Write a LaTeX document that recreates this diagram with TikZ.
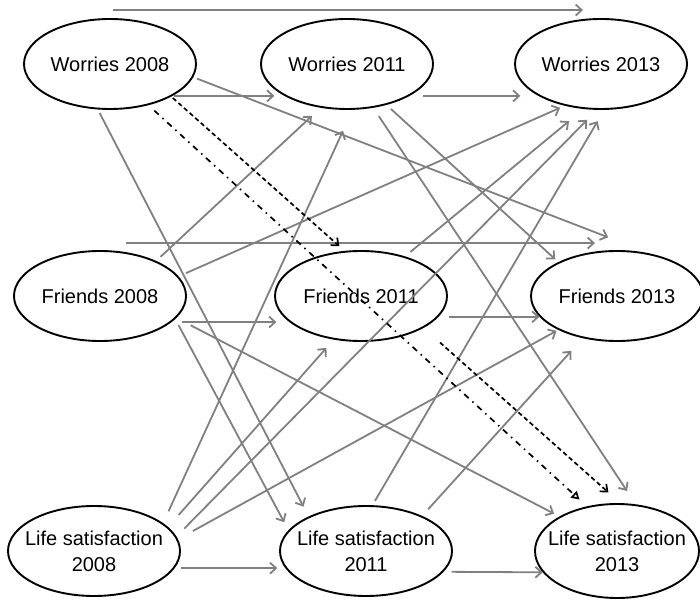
\documentclass[tikz,border=0pt]{standalone}
\usepackage{fontspec}
\setmainfont{Liberation Sans}
\usetikzlibrary{arrows.meta,shapes.geometric}
\definecolor{linkgray}{RGB}{128,128,128}

\begin{document}
\begin{tikzpicture}[
    x=1pt, y=1pt,
    construct/.style={
        draw,
        ellipse,
        line width=1.9pt,
        align=center,
        minimum width=172pt,
        minimum height=90pt,
        inner xsep=-14pt,
        inner ysep=0pt,
        font=\fontsize{20}{26}\selectfont
    },
    effect/.style={draw=linkgray,line width=1.8pt,-{Straight Barb[length=6pt,width=11pt]}},
    lagged/.style={draw=black,line width=1.7pt,dash pattern=on 4.5pt off 3pt,-{Straight Barb[length=6pt,width=10pt]}},
    direct/.style={draw=black,line width=1.7pt,dash pattern=on 6pt off 5pt on 1.5pt off 5pt,-{Triangle[open,length=8pt,width=9pt]}}
]
\useasboundingbox (0,0) rectangle (700,600);

\node[construct] (w08) at (110,536) {Worries 2008};
\node[construct] (w11) at (347,536) {Worries 2011};
\node[construct] (w13) at (601,536) {Worries 2013};

\node[construct] (f08) at (100,304) {Friends 2008};
\node[construct] (f11) at (361,304) {Friends 2011};
\node[construct] (f13) at (617,304) {Friends 2013};

\node[construct] (l08) at (94,49) {Life satisfaction\\2008};
\node[construct] (l11) at (366,49) {Life satisfaction\\2011};
\node[construct,minimum width=164pt,minimum height=94pt] (l13) at (617,49) {Life satisfaction\\2013};

% stability paths
\draw[effect] ([shift={(3,8)}]w08.north) -- ([shift={(-18,8)}]w13.north);
\draw[effect,shorten <=1pt,shorten >=10pt] (w08.-27) -- (w11.207);
\draw[effect,shorten <=13pt,shorten >=18pt] (w11.-27) -- (w13.207);
\draw[effect] ([shift={(26,7)}]f08.north) -- ([shift={(-22,7)}]f13.north);
\draw[effect,shorten <=10pt,shorten >=13pt] (f08.-20) -- (f11.200);
\draw[effect,shorten <=10pt] (f11.-15) -- (f13.195);
\draw[effect,shorten <=6pt,shorten >=8pt] (l08.-12) -- (l11.192);
\draw[effect,shorten <=8pt] (l11.-15) -- (l13.196);

% cross-lagged paths
\draw[effect,shorten <=4pt,shorten >=45pt] (w08.-9) -- (f13.52);
\draw[effect,shorten <=4pt,shorten >=11pt] (w08.-105) -- (l11.149);
\draw[effect,shorten <=6pt,shorten >=4pt] (w11.-46) -- (f13.150);
\draw[effect,shorten <=10pt,shorten >=16pt] (w11.-59) -- (l13.68);
\draw[effect,shorten <=6pt,shorten >=12pt] (f08.32) -- (w11.-121);
\draw[effect,shorten <=8pt,shorten >=5pt] (f08.14) -- (w13.-131);
\draw[effect,shorten <=7pt,shorten >=9pt] (f08.-17) -- (l11.165);
\draw[effect,shorten <=16pt,shorten >=6pt] (f08.-16) -- (l13.149);
\draw[effect,shorten <=7pt,shorten >=19pt] (f11.42) -- (w13.-111);
\draw[effect,shorten <=13pt,shorten >=23pt] (l08.22) -- (w11.-83);
\draw[effect,shorten <=16pt,shorten >=11pt] (l08.18) -- (f11.-122);
\draw[effect,shorten <=11pt,shorten >=14pt] (l08.10) -- (w13.-95);
\draw[effect,shorten <=17pt,shorten >=2pt] (l08.8) -- (f13.-150);
\draw[effect,shorten <=5pt,shorten >=13pt] (l11.82) -- (w13.-86);
\draw[effect,shorten <=9pt,shorten >=17pt] (l11.32) -- (f13.-129);

% mediation
\draw[lagged,shorten <=2pt,shorten >=7pt] (w08.-28) -- (f11.110);
\draw[lagged,shorten <=22pt,shorten >=16pt] (f11.-27) -- (l13.86);
\draw[direct,shorten <=8pt,shorten >=10pt] (w08.-47) -- (l13.124);
\end{tikzpicture}
\end{document}
